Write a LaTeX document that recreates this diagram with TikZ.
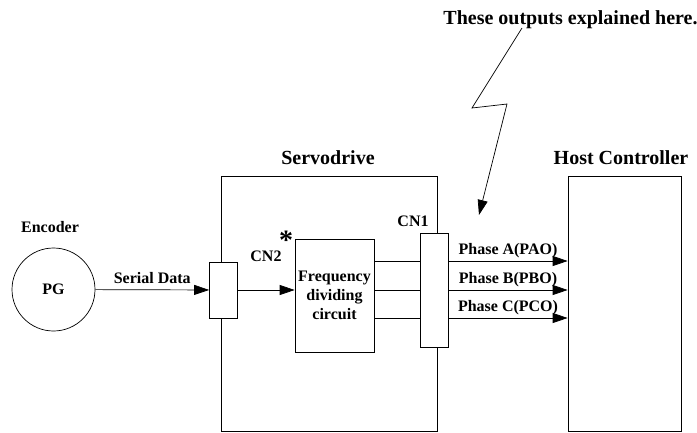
\documentclass[tikz,border=0pt]{standalone}
\usepackage{fontspec}
\setmainfont{Liberation Serif}
\usetikzlibrary{arrows.meta,positioning}

\begin{document}
\begin{tikzpicture}[x=1pt,y=-1pt,>={Triangle[length=15pt,width=10pt]},
  font=\bfseries\fontsize{16}{19}\selectfont]

\tikzset{
unit/.style={
    draw,
    line width=0.7pt,
    fill=white,
    inner sep=0pt
},
port/.style={
    unit,
    minimum width=28pt
},
title/.style={
    font=\bfseries\fontsize{20}{24}\selectfont
},
arrow/.style={->,line width=0.7pt}
}

\useasboundingbox (0,0) rectangle (697,432);

% main blocks
\node[unit,minimum width=216pt,minimum height=255pt] (drive) at (329,303.5) {};
\node[unit,minimum width=113pt,minimum height=255pt] (host) at (624.5,303.5) {};
\node[title] (drivelabel) at (328,158) {Servodrive};
\node[title] (hostlabel) at (621,158) {Host Controller};

\node[draw,circle,line width=0.7pt,minimum size=83pt,inner sep=0pt] (pg) at (53.5,289.5) {PG};
\node (enclabel) at (50,227) {Encoder};

\node[port,minimum height=56pt] (cn2) at (223.5,290) {};
\node[port,minimum height=114pt] (cn1) at (434,290) {};
\node[unit,minimum width=79pt,minimum height=113pt,align=center] (divider) at (334.5,295.5)
  {Frequency\\dividing\\circuit};

\node (cn2label) at (266,256) {CN2};
\node (cn1label) at (413,221) {CN1};
\node[font=\bfseries\fontsize{28}{30}\selectfont] (star) at (286,240) {*};

% signals
\draw[arrow] (pg) -- node[above=2pt]{Serial Data} (cn2);
\draw[arrow] (cn2) -- (divider.west |- cn2);

\foreach \y/\txt in {261/Phase A(PAO),290/Phase B(PBO),318/Phase C(PCO)}{
  \draw[line width=0.7pt] (divider.east |- 0,\y) -- (cn1.west |- 0,\y);
  \draw[arrow] (cn1.east |- 0,\y) -- node[above=-1pt]{\txt} (host.west |- 0,\y);
}

% note
\node[title] (note) at (570.5,20) {These outputs explained here.};
\coordinate (tip) at (479,215);
\draw[arrow] (522,28) -- (472,108) -- (507,104) -- (tip);

\end{tikzpicture}
\end{document}
